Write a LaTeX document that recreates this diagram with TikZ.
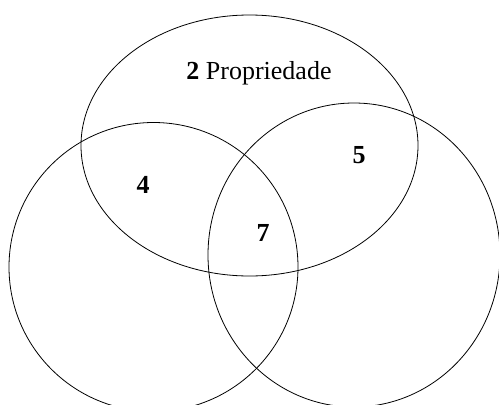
\documentclass[tikz,border=0pt]{standalone}
\usepackage{fontspec}
\setmainfont{Liberation Serif}
\begin{document}
\begin{tikzpicture}[x=1pt,y=-1pt,
  setline/.style={draw=black,line width=0.8pt},
  lbl/.style={anchor=base,inner sep=0pt,font=\fontsize{26}{30}\selectfont}]
\useasboundingbox (0,0) rectangle (499,405);
\begin{scope}
\clip (0,0) rectangle (499,405);
\draw[setline] (249.5,145.5) ellipse [x radius=168.5, y radius=130.5];
\draw[setline] (153.5,267) ellipse [x radius=144.5, y radius=144.5];
\draw[setline] (354,255) ellipse [x radius=146, y radius=152];
\end{scope}
\node[lbl] (prop) at (259,79) {\textbf{2} Propriedade};
\node[lbl] (four) at (143,193) {\textbf{4}};
\node[lbl] (five) at (359,163) {\textbf{5}};
\node[lbl] (seven) at (263,241) {\textbf{7}};
\end{tikzpicture}
\end{document}
